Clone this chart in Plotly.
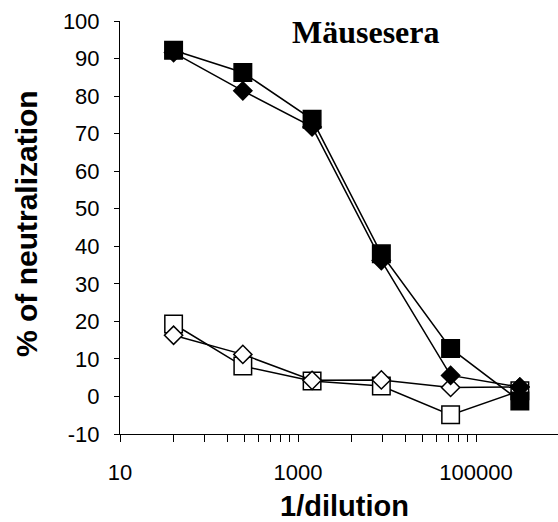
import plotly.graph_objects as go

# Serum dilutions (1:6 series starting at 1:40)
dilution = [40, 240, 1440, 8640, 51840, 311040]

# Percent neutralization per serum
filled_squares = [92.2, 86.3, 73.8, 38.0, 12.8, -1.2]
filled_diamonds = [91.6, 81.4, 71.8, 36.2, 5.6, 2.5]
open_squares = [19.3, 8.1, 4.1, 2.8, -4.9, 1.5]
open_diamonds = [16.3, 11.2, 4.3, 4.4, 2.4, 2.5]

x_tick_vals = [10, 1000, 100000]
x_tick_text = ["10", "1000", "100000"]
y_tick_vals = list(range(-10, 101, 10))
y_tick_text = [str(v) for v in y_tick_vals]  # plain hyphen for "-10"

# minor ticks inside each two-decade step: 10*n^2 and 1000*n^2
x_minor_vals = [10 * n * n for n in range(2, 10)] + [1000 * n * n for n in range(2, 10)]

title_text = "Mäusesera"
x_title = "1/dilution"
y_title = "% of neutralization"

LINE_W = 1.5
SQ_SIZE = 17.5
DM_SIZE = 14


def series(yvals, symbol, size, fill):
    return go.Scatter(
        x=dilution,
        y=yvals,
        mode="lines+markers",
        line=dict(color="black", width=LINE_W),
        marker=dict(
            symbol=symbol,
            size=size,
            color=fill,
            line=dict(color="black", width=LINE_W),
        ),
        showlegend=False,
    )


fig = go.Figure()
fig.add_trace(series(open_squares, "square", SQ_SIZE, "white"))
fig.add_trace(series(open_diamonds, "diamond", DM_SIZE, "white"))
fig.add_trace(series(filled_diamonds, "diamond", DM_SIZE, "black"))
fig.add_trace(series(filled_squares, "square", SQ_SIZE, "black"))

axis_font = dict(family="Liberation Sans, Arial, sans-serif", size=22, color="black")

fig.update_layout(
    width=558,
    height=522,
    margin=dict(l=120, r=0, t=21, b=88),
    paper_bgcolor="white",
    plot_bgcolor="white",
    xaxis=dict(
        type="log",
        range=[1, 1 + (558 - 120) / 89.0],
        tickmode="array",
        tickvals=x_tick_vals,
        ticktext=x_tick_text,
        ticks="outside",
        ticklen=7,
        tickwidth=1,
        tickcolor="black",
        showline=True,
        linecolor="black",
        linewidth=1,
        showgrid=False,
        zeroline=False,
        tickfont=axis_font,
        ticklabelstandoff=12,
        minor=dict(
            tickmode="array",
            tickvals=x_minor_vals,
            ticks="outside",
            ticklen=7,
            tickwidth=1,
            tickcolor="black",
            showgrid=False,
        ),
    ),
    yaxis=dict(
        range=[-10, 100],
        tickmode="array",
        tickvals=y_tick_vals,
        ticktext=y_tick_text,
        ticks="outside",
        ticklen=5,
        tickwidth=1,
        tickcolor="black",
        showline=True,
        linecolor="black",
        linewidth=1,
        showgrid=False,
        zeroline=False,
        tickfont=axis_font,
        ticklabelstandoff=10,
    ),
    annotations=[
        dict(
            text="<b>" + title_text + "</b>",
            xref="paper", yref="paper",
            x=(366 - 120) / 438.0, y=(434 - 32) / 413.0,
            xanchor="center", yanchor="middle",
            showarrow=False,
            font=dict(family="Liberation Serif, Times New Roman, serif", size=32, color="black"),
        ),
        dict(
            text="<b>" + x_title + "</b>",
            xref="paper", yref="paper",
            x=(344 - 120) / 438.0, y=(434 - 506) / 413.0,
            xanchor="center", yanchor="middle",
            showarrow=False,
            font=dict(family="Liberation Sans, Arial, sans-serif", size=29, color="black"),
        ),
        dict(
            text="<b>" + y_title + "</b>",
            xref="paper", yref="paper",
            x=(26 - 120) / 438.0, y=(434 - 224) / 413.0,
            xanchor="center", yanchor="middle",
            textangle=-90,
            showarrow=False,
            font=dict(family="Liberation Sans, Arial, sans-serif", size=30, color="black"),
        ),
    ],
)

fig.write_html("out.html")
